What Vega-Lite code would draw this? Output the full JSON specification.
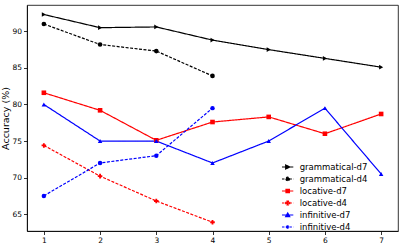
{
  "$schema": "https://vega.github.io/schema/vega-lite/v6.json",
  "width": 371,
  "height": 226,
  "autosize": "none",
  "padding": {"left": 27, "top": 5, "right": 6, "bottom": 15},
  "background": "white",
  "config": {
    "font": "DejaVu Sans",
    "view": {"stroke": "#000000", "strokeWidth": 0.8},
    "axis": {"grid": false, "domainColor": "#000000", "tickColor": "#000000", "labelColor": "#000000", "titleColor": "#000000", "labelFont": "DejaVu Sans", "titleFont": "DejaVu Sans", "labelFontSize": 7.5, "tickSize": 3.5, "tickWidth": 0.8, "domainWidth": 0.8, "labelPadding": 2}
  },
  "data": {"values": [
    {"series": "grammatical-d7", "x": 1, "acc": 92.3},
    {"series": "grammatical-d7", "x": 2, "acc": 90.5},
    {"series": "grammatical-d7", "x": 3, "acc": 90.6},
    {"series": "grammatical-d7", "x": 4, "acc": 88.8},
    {"series": "grammatical-d7", "x": 5, "acc": 87.5},
    {"series": "grammatical-d7", "x": 6, "acc": 86.3},
    {"series": "grammatical-d7", "x": 7, "acc": 85.1},
    {"series": "grammatical-d4", "x": 1, "acc": 91.0},
    {"series": "grammatical-d4", "x": 2, "acc": 88.2},
    {"series": "grammatical-d4", "x": 3, "acc": 87.3},
    {"series": "grammatical-d4", "x": 4, "acc": 83.9},
    {"series": "locative-d7", "x": 1, "acc": 81.6},
    {"series": "locative-d7", "x": 2, "acc": 79.2},
    {"series": "locative-d7", "x": 3, "acc": 75.1},
    {"series": "locative-d7", "x": 4, "acc": 77.6},
    {"series": "locative-d7", "x": 5, "acc": 78.3},
    {"series": "locative-d7", "x": 6, "acc": 76.0},
    {"series": "locative-d7", "x": 7, "acc": 78.7},
    {"series": "locative-d4", "x": 1, "acc": 74.4},
    {"series": "locative-d4", "x": 2, "acc": 70.2},
    {"series": "locative-d4", "x": 3, "acc": 66.8},
    {"series": "locative-d4", "x": 4, "acc": 63.9},
    {"series": "infinitive-d7", "x": 1, "acc": 80.0},
    {"series": "infinitive-d7", "x": 2, "acc": 75.0},
    {"series": "infinitive-d7", "x": 3, "acc": 75.0},
    {"series": "infinitive-d7", "x": 4, "acc": 72.0},
    {"series": "infinitive-d7", "x": 5, "acc": 75.0},
    {"series": "infinitive-d7", "x": 6, "acc": 79.5},
    {"series": "infinitive-d7", "x": 7, "acc": 70.5},
    {"series": "infinitive-d4", "x": 1, "acc": 67.5},
    {"series": "infinitive-d4", "x": 2, "acc": 72.0},
    {"series": "infinitive-d4", "x": 3, "acc": 73.0},
    {"series": "infinitive-d4", "x": 4, "acc": 79.5}
  ]},
  "encoding": {
    "x": {"field": "x", "type": "quantitative", "scale": {"domain": [0.7, 7.3], "nice": false, "zero": false}, "axis": {"values": [1, 2, 3, 4, 5, 6, 7], "title": null, "format": "d"}},
    "y": {"field": "acc", "type": "quantitative", "scale": {"domain": [62.7, 93.6], "nice": false, "zero": false}, "axis": {"values": [65, 70, 75, 80, 85, 90], "title": "Accuracy (%)", "titleFontSize": 9.5, "titleFontWeight": "normal", "titlePadding": 1}}
  },
  "resolve": {"scale": {"color": "independent", "shape": "independent", "strokeDash": "independent", "size": "independent", "fill": "independent", "stroke": "independent"}},
  "layer": [
    {
      "mark": {"type": "line", "strokeWidth": 1.2},
      "encoding": {
        "color": {"field": "series", "type": "nominal", "legend": null,
          "scale": {"domain": ["grammatical-d7", "grammatical-d4", "locative-d7", "locative-d4", "infinitive-d7", "infinitive-d4"], "range": ["#000000", "#000000", "#ff0000", "#ff0000", "#0000ff", "#0000ff"]}},
        "strokeDash": {"field": "series", "type": "nominal", "legend": null,
          "scale": {"domain": ["grammatical-d7", "grammatical-d4", "locative-d7", "locative-d4", "infinitive-d7", "infinitive-d4"], "range": [[1, 0], [3, 1.5], [1, 0], [3, 1.5], [1, 0], [3, 1.5]]}}
      }
    },
    {
      "mark": {"type": "point", "filled": true, "opacity": 1},
      "encoding": {
        "color": {"field": "series", "type": "nominal", "legend": null,
          "scale": {"domain": ["grammatical-d7", "grammatical-d4", "locative-d7", "locative-d4", "infinitive-d7", "infinitive-d4"], "range": ["#000000", "#000000", "#ff0000", "#ff0000", "#0000ff", "#0000ff"]}},
        "shape": {"field": "series", "type": "nominal", "legend": null,
          "scale": {"domain": ["grammatical-d7", "grammatical-d4", "locative-d7", "locative-d4", "infinitive-d7", "infinitive-d4"], "range": ["triangle-right", "circle", "square", "cross", "triangle-up", "circle"]}},
        "size": {"field": "series", "type": "nominal", "legend": null,
          "scale": {"domain": ["grammatical-d7", "grammatical-d4", "locative-d7", "locative-d4", "infinitive-d7", "infinitive-d4"], "range": [22, 20, 18, 24, 20, 9]}}
      }
    },
    {
      "transform": [{"filter": "datum.x > 100"}],
      "mark": {"type": "point", "strokeWidth": 1.2, "opacity": 1},
      "encoding": {
        "fill": {"field": "series", "type": "nominal",
          "scale": {"domain": ["grammatical-d7", "grammatical-d4", "locative-d7", "locative-d4", "infinitive-d7", "infinitive-d4"], "range": ["#000000", "#000000", "#ff0000", "#ff0000", "#0000ff", "#0000ff"]},
          "legend": {"title": null, "orient": "none", "legendX": 259.3, "legendY": 157, "padding": 0, "offset": 0, "symbolSize": 64, "labelFontSize": 8.5, "labelFont": "DejaVu Sans", "labelColor": "#000000", "labelOffset": 3.4, "rowPadding": 2, "symbolStrokeWidth": 1.2, "symbolOpacity": 1}},
        "stroke": {"field": "series", "type": "nominal",
          "scale": {"domain": ["grammatical-d7", "grammatical-d4", "locative-d7", "locative-d4", "infinitive-d7", "infinitive-d4"], "range": ["#000000", "#000000", "#ff0000", "#ff0000", "#0000ff", "#0000ff"]},
          "legend": {"title": null, "orient": "none", "legendX": 259.3, "legendY": 157, "padding": 0, "offset": 0, "symbolSize": 64, "labelFontSize": 8.5, "labelFont": "DejaVu Sans", "labelColor": "#000000", "labelOffset": 3.4, "rowPadding": 2, "symbolStrokeWidth": 1.2, "symbolOpacity": 1}},
        "strokeDash": {"field": "series", "type": "nominal",
          "scale": {"domain": ["grammatical-d7", "grammatical-d4", "locative-d7", "locative-d4", "infinitive-d7", "infinitive-d4"], "range": [[1, 0], [2.5, 1.2], [1, 0], [2.5, 1.2], [1, 0], [2.5, 1.2]]},
          "legend": {"title": null, "orient": "none", "legendX": 259.3, "legendY": 157, "padding": 0, "offset": 0, "symbolSize": 64, "labelFontSize": 8.5, "labelFont": "DejaVu Sans", "labelColor": "#000000", "labelOffset": 3.4, "rowPadding": 2, "symbolStrokeWidth": 1.2, "symbolOpacity": 1}},
        "shape": {"field": "series", "type": "nominal",
          "scale": {"domain": ["grammatical-d7", "grammatical-d4", "locative-d7", "locative-d4", "infinitive-d7", "infinitive-d4"], "range": [
            "M-2.33,0L0.5,0M-1.4,-0.5L-0.4,0L-1.4,0.5Z",
            "M-2.33,0L0.5,0M-1.35,0A0.45,0.45 0 1,0 -0.45,0A0.45,0.45 0 1,0 -1.35,0Z",
            "M-2.33,0L0.5,0M-1.33,-0.43L-0.47,-0.43L-0.47,0.43L-1.33,0.43Z",
            "M-2.33,0L0.5,0M-1.08,-0.5L-0.72,-0.5L-0.72,-0.18L-0.4,-0.18L-0.4,0.18L-0.72,0.18L-0.72,0.5L-1.08,0.5L-1.08,0.18L-1.4,0.18L-1.4,-0.18L-1.08,-0.18Z",
            "M-2.33,0L0.5,0M-0.9,-0.5L-0.4,0.4L-1.4,0.4Z",
            "M-2.33,0L0.5,0M-1.18,0A0.28,0.28 0 1,0 -0.62,0A0.28,0.28 0 1,0 -1.18,0Z"]},
          "legend": {"title": null, "orient": "none", "legendX": 259.3, "legendY": 157, "padding": 0, "offset": 0, "symbolSize": 64, "labelFontSize": 8.5, "labelFont": "DejaVu Sans", "labelColor": "#000000", "labelOffset": 3.4, "rowPadding": 2, "symbolStrokeWidth": 1.2, "symbolOpacity": 1}}
      }
    }
  ]
}
